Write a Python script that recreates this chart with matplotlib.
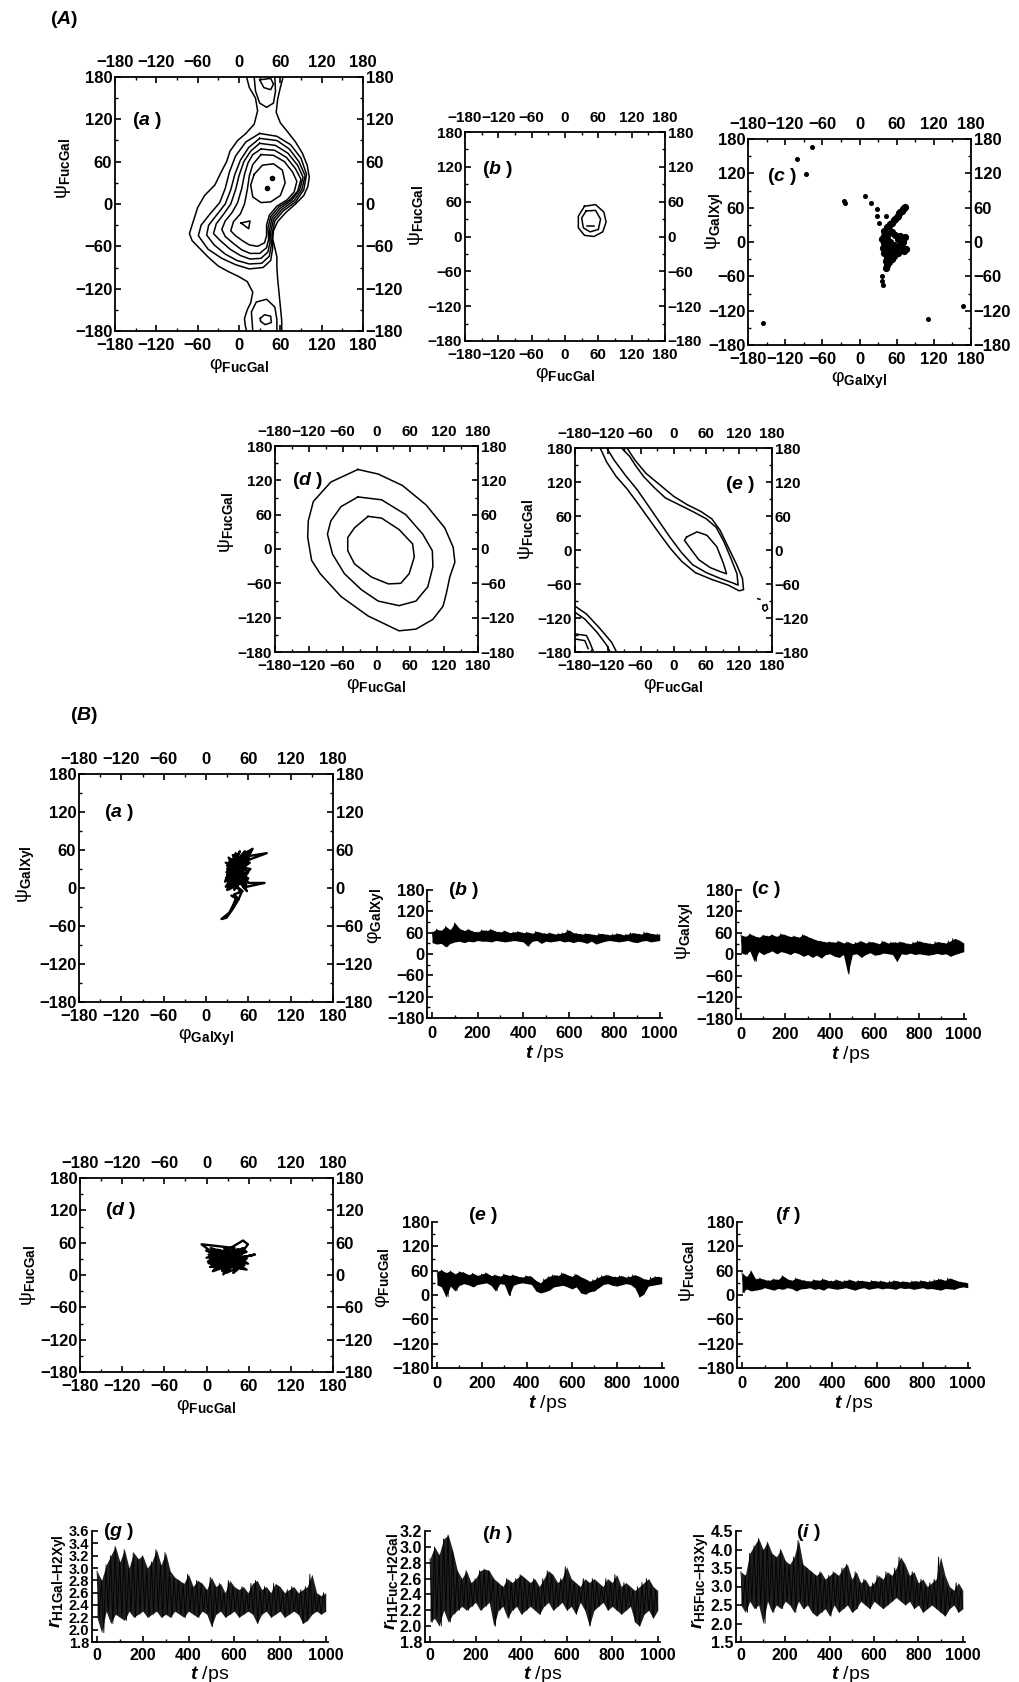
import numpy as np
import matplotlib
matplotlib.use('Agg')
import matplotlib.pyplot as plt
from matplotlib.ticker import MultipleLocator

plt.rcParams.update({
    'font.family': ['Liberation Sans', 'DejaVu Sans'],
    'font.weight': 'bold',
    'mathtext.fontset': 'custom',
    'mathtext.rm': 'Liberation Sans:bold',
    'mathtext.it': 'Liberation Sans:italic:bold',
    'mathtext.bf': 'Liberation Sans:bold',
    'mathtext.sf': 'Liberation Sans:bold',
    'axes.linewidth': 1.3,
})

# ---------------- data ----------------
ANGLE_TICKS = [-180, -120, -60, 0, 60, 120, 180]
TIME_TICKS = [0, 200, 400, 600, 800, 1000]

# A(a) contour lines (phi, psi)
Aa_left = [(11,180),(15,165),(24,150),(27,132),(22,113),(10,100),(-2,90),(-13,75),(-18,60),(-26,45),(-35,27),
           (-50,12),(-60,-5),(-72,-42),(-68,-52),(-58,-62),(-45,-75),(-30,-88),(-15,-96),(0,-103),(12,-110),
           (20,-125),(17,-140),(12,-150),(8,-162),(9,-172),(11,-180)]
Aa_right = [(64,180),(60,165),(56,148),(54,130),(60,115),(70,103),(82,88),(92,72),(99,55),(102,38),(100,25),
            (94,12),(82,0),(68,-12),(56,-25),(50,-38),(49,-50),(52,-62),(55,-75),(55,-90),(56,-105),(58,-125),
            (60,-145),(62,-165),(62,-180)]
Aa_c2 = [(30,100),(55,96),(75,84),(90,65),(98,42),(94,20),(82,3),(64,-10),(52,-24),(48,-42),(49,-62),(46,-80),
         (35,-90),(15,-92),(-5,-86),(-25,-77),(-45,-64),(-59,-45),(-55,-30),(-42,-14),(-28,2),(-20,22),(-14,45),
         (-5,68),(10,88),(30,100)]
Aa_c3 = [(30,93),(55,90),(73,78),(87,60),(96,40),(91,20),(80,5),(62,-8),(50,-22),(46,-40),(47,-58),(44,-74),
         (33,-84),(15,-85),(-3,-80),(-20,-71),(-36,-58),(-47,-44),(-44,-30),(-32,-15),(-20,0),(-12,20),(-6,42),
         (2,62),(14,80),(30,93)]
Aa_c4 = [(30,86),(53,83),(71,72),(85,55),(93,38),(88,20),(77,6),(60,-6),(48,-20),(44,-38),(45,-54),(42,-68),
         (32,-77),(16,-78),(2,-73),(-13,-64),(-27,-52),(-37,-42),(-33,-28),(-22,-14),(-12,0),(-5,20),(0,40),
         (7,60),(17,75),(30,86)]
Aa_c5 = [(32,78),(52,76),(69,66),(82,50),(90,35),(85,18),(74,6),(58,-4),(46,-18),(42,-34),(43,-50),(40,-62),
         (30,-70),(16,-70),(4,-65),(-8,-56),(-20,-46),(-25,-36),(-20,-24),(-10,-12),(-2,2),(4,22),(8,42),
         (13,58),(20,70),(32,78)]
Aa_c6 = [(32,70),(50,69),(66,60),(78,45),(84,32),(80,17),(70,6),(55,-3),(44,-16),(40,-30),(40,-45),(37,-55),
         (27,-60),(15,-58),(5,-52),(-5,-45),(-12,-38),(-8,-25),(2,-14),(8,0),(12,20),(15,40),(20,56),(32,70)]
Aa_c7 = [(22,42),(34,55),(50,57),(63,48),(67,30),(60,12),(46,3),(32,2),(20,10),(17,27),(22,42)]
Aa_tri = [(3,-27),(16,-24),(14,-35),(3,-27)]
Aa_top_u = [(22,180),(24,160),(30,143),(40,137),(50,143),(53,160),(52,180)]
Aa_top_loop = [(30,176),(36,165),(46,162),(50,170),(46,178),(30,176)]
Aa_bot_u = [(20,-180),(18,-153),(25,-139),(40,-135),(52,-146),(55,-164),(55,-180)]
Aa_bot_loop = [(31,-162),(37,-157),(46,-159),(47,-168),(38,-171),(31,-166),(31,-162)]
Aa_dots_phi = [48, 40]
Aa_dots_psi = [37, 23]

# A(b)
Ab_outer = [(35,52),(55,55),(70,42),(74,25),(68,8),(52,0),(35,2),(24,15),(24,35),(35,52)]
Ab_inner = [(38,44),(55,45),(64,30),(60,12),(45,8),(33,15),(30,32),(38,44)]
Ab_dash = [(40,18),(52,18)]

# A(c) scatter
Ac_out_phi = [-76, -101, -87, -25, -24, 9, 19, 28, 29, 42, 31, -155, 111, 167, 36, 37, 38]
Ac_out_psi = [166, 145, 118, 71, 69, 80, 68, 58, 45, 45, 33, -142, -135, -112, -60, -69, -75]
Ac_core_phi = [40,45,50,55,60,64,68,72,74,70,66,62,57,52,47,40,45,50,55,42,48,54,60,65,70,72,68,62,58,52,
               46,40,44,48,52,56,62,45,42,50,38,36,66,70,75,74,43,39]
Ac_core_psi = [20,26,32,38,44,50,55,60,62,58,52,46,40,34,28,10,5,0,-5,-5,-12,-18,-10,-5,-10,-15,-2,5,12,18,
               14,-20,-28,-35,-30,-25,-20,-40,-45,-22,-10,5,10,0,-12,8,-33,-2]

# A(d)
Ad_outer = [(-33,139),(-81,117),(-112,83),(-121,49),(-122,20),(-115,-20),(-100,-43),(-63,-83),(-15,-117),
            (40,-143),(70,-140),(100,-123),(118,-100),(124,-77),(130,-49),(139,-23),(136,3),(121,37),(88,77),
            (46,111),(3,131),(-33,139)]
Ad_mid = [(-33,91),(-63,74),(-81,49),(-87,26),(-78,-9),(-57,-43),(-27,-71),(3,-91),(40,-99),(70,-91),
          (91,-66),(100,-31),(99,-3),(82,26),(52,60),(9,86),(-33,91)]
Ad_inner = [(-15,57),(-39,37),(-51,20),(-51,-3),(-39,-26),(-9,-49),(21,-61),(43,-60),(58,-43),(67,-14),
            (64,9),(40,34),(9,54),(-15,57)]

# A(e)
Ae_outer = [(-134,180),(-122,155),(-105,130),(-85,108),(-65,82),(-45,55),(-25,28),(-5,2),(15,-20),(40,-40),
            (70,-52),(100,-62),(120,-72),(128,-70),(126,-50),(115,-25),(100,5),(85,35),(70,55),(50,68),
            (25,80),(0,95),(-25,115),(-50,135),(-70,158),(-85,180)]
Ae_inner = [(-122,180),(-108,158),(-88,132),(-66,106),(-46,78),(-26,50),(-6,22),(15,-5),(35,-26),(60,-40),
            (85,-50),(108,-58),(118,-62),(116,-42),(105,-15),(92,15),(78,40),(60,55),(35,68),(10,80),
            (-15,92),(-35,110),(-55,130),(-70,150),(-80,165),(-95,180)]
Ae_loop = [(24,23),(43,32),(61,26),(79,6),(91,-23),(97,-42),(85,-38),(67,-31),(46,-17),(33,0),(20,17),(24,23)]
Ae_c1 = [(-180,-99),(-159,-113),(-134,-139),(-113,-163),(-104,-180)]
Ae_c2 = [(-180,-110),(-162,-122),(-140,-145),(-122,-168),(-116,-180)]
Ae_c3 = [(-180,-148),(-159,-151),(-153,-163),(-146,-180)]
Ae_c4 = [(-180,-157),(-162,-160),(-156,-174)]
Ae_small = [(164,-98),(170,-96),(172,-104),(167,-108),(163,-104),(164,-98)]
Ae_tick = [(154,-86),(158,-87)]

# B(a) trajectory psi_GalXyl vs phi_GalXyl
Ba_traj = [(40,20),(58,45),(30,30),(62,55),(35,5),(55,30),(28,40),(60,15),(33,-2),(50,50),(30,20),(57,5),
           (42,55),(27,10),(62,40),(36,45),(58,-5),(30,35),(66,62),(45,15),(29,25),(55,58),(40,-3),(60,25),
           (32,48),(52,10),(28,2),(58,50),(86,55),(50,40),(35,12),(64,60),(44,30),(30,-3),(56,20),(38,52),
           (60,8),(83,8),(58,2),(34,30),(48,58),(29,15),(52,-5),(40,-10),(46,-18),(36,-12),(43,-15),(38,-28),
           (33,-39),(22,-49),(29,-47),(38,-33),(46,-18),(50,-8),(42,5),(55,35),(35,22),(61,48),(45,45),(31,8),
           (57,38),(33,42),(54,0),(39,35),(63,30),(31,-2),(48,22),(60,58),(36,28),(53,12)]

# B(d) trajectory psi_FucGal vs phi_FucGal
Bd_traj = [(0,45),(50,20),(5,30),(55,45),(10,15),(40,50),(-7,57),(30,20),(3,38),(57,30),(15,12),(45,48),
           (2,25),(52,64),(59,57),(35,15),(8,48),(50,12),(20,45),(57,43),(12,20),(69,38),(40,30),(5,15),
           (45,18),(25,50),(59,21),(10,35),(55,28),(22,8),(38,45),(3,22),(57,10),(15,40),(42,12),(28,4),
           (50,38),(0,32),(35,45),(9,7),(48,25),(18,30),(52,50),(24,1),(30,40),(6,50),(44,10),(38,4),
           (58,35),(12,25),(47,45),(20,15),(54,18),(2,45),(33,28),(16,47),(50,30),(7,20),(41,40),(26,18)]

# time series envelopes (upper / lower excursions, sampled every ~20 ps)
phiGX_hi = [62,70,66,78,68,88,72,66,70,64,62,68,66,70,64,62,66,60,62,64,60,62,58,64,60,58,60,56,58,60,
            68,60,58,56,58,56,54,58,56,54,56,58,54,56,60,58,56,62,58,56,56]
phiGX_lo = [32,28,30,20,30,34,36,32,36,34,38,36,36,34,38,36,34,36,38,36,34,22,36,38,30,36,34,36,38,34,
            36,32,36,34,30,36,28,32,36,38,36,34,36,38,34,32,36,38,34,36,38]
psiGX_hi = [55,50,58,52,48,55,52,56,50,58,55,50,52,48,56,50,45,40,38,35,36,34,38,32,36,30,34,38,32,36,
            34,30,38,32,35,34,36,32,30,35,38,34,32,30,36,34,32,38,45,40,32]
psiGX_lo = [5,0,10,-20,8,0,5,10,2,8,5,0,6,2,-5,0,-8,-2,-10,0,2,-5,-8,0,-55,0,2,-8,0,5,
            -2,0,4,2,0,-20,2,0,4,0,2,0,-2,0,3,0,2,-5,0,4,8]
phiFG_hi = [58,62,55,60,52,58,56,50,54,48,52,55,48,50,46,52,48,50,46,44,48,46,36,30,40,46,50,48,55,50,
            46,52,45,40,34,38,44,48,50,46,45,48,44,46,50,46,40,38,44,46,44]
phiFG_lo = [25,20,-5,22,10,24,28,25,20,26,28,30,24,10,28,26,-2,24,28,30,28,26,10,5,8,12,20,22,24,20,
            15,20,5,2,8,10,18,26,28,24,22,25,28,26,18,-5,2,22,24,26,28]
psiFG_hi = [55,45,60,40,42,38,36,40,38,48,40,36,42,38,36,34,38,36,40,36,35,38,34,36,38,34,36,35,33,36,
            34,35,32,34,36,33,34,32,35,34,36,33,35,38,40,36,42,38,34,32,30]
psiFG_lo = [5,15,10,12,14,18,15,12,16,14,18,16,10,15,16,18,14,16,12,18,16,14,16,18,15,12,16,18,14,16,
            18,15,17,16,14,18,16,17,14,16,18,15,16,14,12,16,15,14,18,20,18]
rg_hi = [2.95,2.8,3.05,3.2,3.35,3.1,3.3,3.0,3.25,3.15,3.2,3.0,3.1,3.3,3.05,3.25,2.95,2.85,2.8,2.75,
         2.9,2.7,2.8,2.75,2.65,2.85,2.7,2.75,2.6,2.8,2.7,2.65,2.7,2.6,2.75,2.8,2.65,2.7,2.6,2.75,
         2.7,2.6,2.65,2.7,2.6,2.65,2.7,2.9,2.6,2.55,2.6]
rg_lo = [2.2,1.95,2.3,2.1,2.25,2.2,2.15,2.3,2.2,2.25,2.3,2.2,2.25,2.3,2.2,2.25,2.2,2.3,2.25,2.2,
         2.3,2.25,2.2,2.3,2.25,2.05,2.25,2.3,2.2,2.25,2.3,2.2,2.25,2.3,2.25,2.1,2.25,2.3,2.2,2.25,
         2.3,2.2,2.25,2.3,2.25,2.1,2.15,2.25,2.3,2.25,2.3]
rh_hi = [2.85,3.0,2.9,3.1,3.15,2.95,2.7,2.6,2.7,2.55,2.6,2.7,2.72,2.7,2.6,2.55,2.5,2.6,2.55,2.6,
         2.65,2.6,2.55,2.6,2.5,2.6,2.7,2.65,2.55,2.6,2.75,2.6,2.55,2.5,2.6,2.55,2.6,2.55,2.5,2.6,
         2.55,2.65,2.5,2.55,2.5,2.45,2.5,2.55,2.6,2.5,2.45]
rh_lo = [2.05,2.1,2.0,2.2,2.05,2.15,2.2,2.25,2.2,2.25,2.3,2.2,2.25,2.3,2.0,2.2,2.25,2.1,2.2,2.25,
         2.15,2.2,2.25,2.2,2.15,2.25,2.3,2.2,2.25,2.3,2.2,2.25,2.15,2.3,2.2,2.0,2.2,2.25,2.3,2.2,
         2.25,2.2,2.15,2.2,2.25,2.05,2.0,2.15,2.2,2.1,2.2]
ri_hi = [3.4,3.3,3.9,4.1,4.3,4.0,4.2,3.9,3.8,4.0,3.7,3.6,3.8,4.25,3.6,3.5,3.4,3.3,3.4,3.2,
         3.3,3.4,3.3,3.5,3.6,3.2,3.4,3.1,3.2,3.0,3.1,3.3,3.2,3.4,3.3,3.5,3.8,3.6,3.3,3.4,
         3.1,3.2,3.0,3.1,3.2,3.8,3.3,3.0,2.9,3.1,2.9]
ri_lo = [2.5,2.3,2.6,2.4,2.5,2.0,2.6,2.3,2.5,2.4,2.6,2.5,2.3,2.6,2.4,2.5,2.3,2.2,2.3,2.4,
         2.2,2.5,2.3,2.4,2.5,2.3,2.4,2.6,2.5,2.4,2.6,2.5,2.4,2.5,2.6,2.7,2.6,2.5,2.6,2.4,
         2.5,2.3,2.4,2.5,2.4,2.3,2.2,2.4,2.5,2.3,2.4]

# ---------------- layout ----------------
W, H = 1019, 1682
fig = plt.figure(figsize=(W / 100, H / 100), dpi=100)
fig.patch.set_facecolor('white')


def add_ax(x0, y0, x1, y1):
    return fig.add_axes([x0 / W, 1 - y1 / H, (x1 - x0) / W, (y1 - y0) / H])


TL = 12
LBL = 14


def rama(ax, xlabel, ylabel, label, lx, ly, ypos=0.6, tl=TL, ylx=None):
    ax.set_xlim(-180, 180)
    ax.set_ylim(-180, 180)
    ax.set_xticks(ANGLE_TICKS)
    ax.set_yticks(ANGLE_TICKS)
    ax.xaxis.set_minor_locator(MultipleLocator(30))
    ax.yaxis.set_minor_locator(MultipleLocator(30))
    ax.tick_params(which='both', direction='in', top=True, right=True,
                   labeltop=True, labelright=True, labelsize=tl, pad=2)
    ax.tick_params(axis='x', which='both', pad=5)
    ax.tick_params(which='major', length=4, width=1.2)
    ax.tick_params(which='minor', length=2, width=1.0)
    ax.set_xlabel(xlabel, fontsize=LBL, labelpad=2)
    ax.set_ylabel(ylabel, fontsize=LBL, labelpad=1)
    if ylx is not None:
        ax.yaxis.set_label_coords(ylx, ypos)
    else:
        ax.yaxis.label.set_y(ypos)
    ax.text(lx, ly, label, fontsize=LBL, ha='left', va='center')


def line(ax, pts, lw=1.1):
    a = np.array(pts, dtype=float)
    ax.plot(a[:, 0], a[:, 1], color='k', lw=lw, solid_joinstyle='round')


def ts(ax, hi, lo, ylim, yticks, ylabel, label, lx, ly, fmt=None, minor=None,
       ypos=0.7, tl=TL, band='k', lw=0.5, xpad=6):
    n = min(len(hi), len(lo))
    t = np.linspace(0, 1000, n)
    hi = np.asarray(hi[:n], float)
    lo = np.asarray(lo[:n], float)
    ax.fill_between(t, lo, hi, color=band, lw=0)
    x = np.linspace(0, 1000, 2 * n)
    y = np.empty(2 * n)
    y[0::2] = hi
    y[1::2] = lo
    ax.plot(x, y, color='k', lw=lw)
    ax.set_xlim(-22, 1010)
    ax.set_ylim(*ylim)
    ax.set_xticks(TIME_TICKS)
    ax.set_yticks(yticks)
    if fmt:
        ax.set_yticklabels([fmt.format(v) for v in yticks])
    ax.xaxis.set_minor_locator(MultipleLocator(100))
    if minor:
        ax.yaxis.set_minor_locator(MultipleLocator(minor))
    for s in ('top', 'right'):
        ax.spines[s].set_visible(False)
    ax.tick_params(which='both', direction='in', labelsize=tl, pad=2)
    ax.tick_params(axis='x', which='both', pad=xpad, labelsize=max(tl, 11.5))
    ax.tick_params(which='major', length=4, width=1.2)
    ax.tick_params(which='minor', length=2, width=1.0)
    ax.set_xlabel('$\\mathit{t}$ /ps', fontsize=LBL, labelpad=1)
    ax.set_ylabel(ylabel, fontsize=LBL, labelpad=0)
    ax.yaxis.label.set_y(ypos)
    ax.text(lx, ly, label, fontsize=LBL, ha='left', va='center', clip_on=False)


PSI_FG = 'ψ$_{\\mathrm{FucGal}}$'
PHI_FG = 'φ$_{\\mathrm{FucGal}}$'
PSI_GX = 'ψ$_{\\mathrm{GalXyl}}$'
PHI_GX = 'φ$_{\\mathrm{GalXyl}}$'

fig.text(50 / W, 1 - 19 / H, '($\\mathit{A}$)', fontsize=LBL, ha='left', va='center')
fig.text(70 / W, 1 - 715 / H, '($\\mathit{B}$)', fontsize=LBL, ha='left', va='center')

# A(a)
ax = add_ax(115, 77, 363, 331)
for c in (Aa_left, Aa_right, Aa_c2, Aa_c3, Aa_c4, Aa_c5, Aa_c6, Aa_c7, Aa_tri,
          Aa_top_u, Aa_top_loop, Aa_bot_u, Aa_bot_loop):
    line(ax, c)
ax.plot(Aa_dots_phi, Aa_dots_psi, 'o', color='k', ms=3)
rama(ax, PHI_FG, PSI_FG, '($\\mathit{a}$ )', -155, 118, ypos=0.64)

# A(b)
ax = add_ax(465, 132, 665, 341)
for c in (Ab_outer, Ab_inner, Ab_dash):
    line(ax, c)
rama(ax, PHI_FG, PSI_FG, '($\\mathit{b}$ )', -150, 115, ypos=0.6, tl=11)

# A(c)
ax = add_ax(748, 139, 971, 345)
ax.plot(Ac_out_phi, Ac_out_psi, 'o', color='k', ms=2.6)
ax.plot(Ac_core_phi, Ac_core_psi, 'o', color='k', ms=4.2)
rama(ax, PHI_GX, PSI_GX, '($\\mathit{c}$ )', -150, 115, ypos=0.6, ylx=-0.1)

# A(d)
ax = add_ax(275, 446, 478, 652)
for c in (Ad_outer, Ad_mid, Ad_inner):
    line(ax, c)
rama(ax, PHI_FG, PSI_FG, '($\\mathit{d}$ )', -150, 120, ypos=0.63, tl=11)

# A(e)
ax = add_ax(575, 448, 772, 652)
for c in (Ae_outer, Ae_inner, Ae_loop, Ae_c1, Ae_c2, Ae_c3, Ae_c4, Ae_small, Ae_tick):
    line(ax, c)
rama(ax, PHI_FG, PSI_FG, '($\\mathit{e}$ )', 95, 115, ypos=0.6, tl=11)

# B(a)
ax = add_ax(79, 774, 333, 1002)
line(ax, Ba_traj, lw=1.7)
rama(ax, PHI_GX, PSI_GX, '($\\mathit{a}$ )', -145, 120, ypos=0.56)

# B(b), B(c)
ax = add_ax(427, 890, 662, 1018)
ts(ax, phiGX_hi, phiGX_lo, (-180, 180), ANGLE_TICKS, PHI_GX, '($\\mathit{b}$ )', 70, 180, minor=30, ypos=0.8)
ax = add_ax(736, 890, 966, 1019)
ts(ax, psiGX_hi, psiGX_lo, (-180, 180), ANGLE_TICKS, PSI_GX, '($\\mathit{c}$ )', 45, 180, minor=30, ypos=0.68)

# B(d)
ax = add_ax(80, 1178, 333, 1372)
line(ax, Bd_traj, lw=1.7)
rama(ax, PHI_FG, PSI_FG, '($\\mathit{d}$ )', -145, 120, ypos=0.5)

# B(e), B(f)
ax = add_ax(432, 1222, 664, 1368)
ts(ax, phiFG_hi, phiFG_lo, (-180, 180), ANGLE_TICKS, PHI_FG, '($\\mathit{e}$ )', 140, 195, minor=30, ypos=0.62)
ax = add_ax(737, 1222, 970, 1368)
ts(ax, psiFG_hi, psiFG_lo, (-180, 180), ANGLE_TICKS, PSI_FG, '($\\mathit{f}$ )', 145, 195, minor=30, ypos=0.66)

# B(g), B(h), B(i)
ax = add_ax(92, 1531, 328, 1642)
ts(ax, rg_hi, rg_lo, (1.8, 3.6), [1.8, 2.0, 2.2, 2.4, 2.6, 2.8, 3.0, 3.2, 3.4, 3.6],
   '$\\mathit{r}_{\\mathrm{H1Gal–H2Xyl}}$', '($\\mathit{g}$ )', 25, 3.6, fmt='{:.1f}',
   ypos=0.55, tl=10.5, band='0.12', lw=0.6, xpad=4)
ax = add_ax(425, 1531, 660, 1642)
ts(ax, rh_hi, rh_lo, (1.8, 3.2), [1.8, 2.0, 2.2, 2.4, 2.6, 2.8, 3.0, 3.2],
   '$\\mathit{r}_{\\mathrm{H1Fuc–H2Gal}}$', '($\\mathit{h}$ )', 230, 3.15, fmt='{:.1f}',
   ypos=0.55, tl=11.5, band='0.12', lw=0.6, xpad=4)
ax = add_ax(736, 1531, 965, 1642)
ts(ax, ri_hi, ri_lo, (1.5, 4.5), [1.5, 2.0, 2.5, 3.0, 3.5, 4.0, 4.5],
   '$\\mathit{r}_{\\mathrm{H5Fuc–H3Xyl}}$', '($\\mathit{i}$ )', 250, 4.45, fmt='{:.1f}',
   ypos=0.55, tl=11.5, band='0.12', lw=0.6, xpad=4)

fig.savefig('out.png', dpi=100, facecolor='white')
